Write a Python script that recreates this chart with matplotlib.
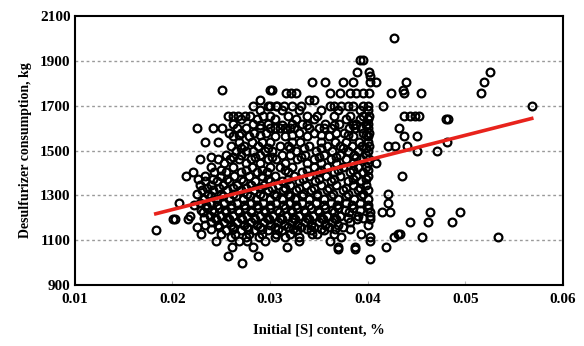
import matplotlib
matplotlib.use("Agg")
import matplotlib.pyplot as plt
import numpy as np

# desulfurizer consumption levels (kg) and the initial [S] contents (%) recorded at each level
consumption_levels = [
    2000, 1905, 1850, 1830, 1805, 1770, 1755, 1725, 1700, 1680,
    1655, 1640, 1620, 1600, 1580, 1565, 1540, 1520, 1500, 1480,
    1460, 1445, 1425, 1405, 1385, 1365, 1345, 1325, 1305, 1285,
    1265, 1245, 1225, 1210, 1195, 1180, 1160, 1145, 1130, 1115,
    1095, 1070, 1060, 1030, 1015, 1000,
]
s_content_rows = [
    [0.0427],
    [0.0392, 0.0395],
    [0.0389, 0.0401, 0.0525],
    [0.0402],
    [0.0343, 0.0356, 0.0375, 0.0385, 0.0402, 0.0409, 0.0439, 0.0519],
    [0.0251, 0.0300, 0.0302, 0.0436],
    [0.0316, 0.0321, 0.0327, 0.0361, 0.0372, 0.0382, 0.0388, 0.0395, 0.0401, 0.0424, 0.0437, 0.0455, 0.0516],
    [0.0290, 0.0340, 0.0345],
    [0.0283, 0.0298, 0.0300, 0.0306, 0.0307, 0.0314, 0.0323, 0.0332, 0.0361, 0.0366, 0.0373, 0.0380, 0.0385, 0.0395, 0.0400, 0.0416, 0.0568],
    [0.0290, 0.0312, 0.0330, 0.0352, 0.0370, 0.0392, 0.0400],
    [0.0257, 0.0262, 0.0267, 0.0274, 0.0279, 0.0293, 0.0300, 0.0318, 0.0338, 0.0348, 0.0365, 0.0382, 0.0395, 0.0401, 0.0437, 0.0443, 0.0448, 0.0453],
    [0.0270, 0.0287, 0.0305, 0.0327, 0.0345, 0.0378, 0.0392, 0.0400, 0.0480, 0.0482],
    [0.0262, 0.0283, 0.0298, 0.0322, 0.0333, 0.0356, 0.0371, 0.0388, 0.0400],
    [0.0225, 0.0242, 0.0251, 0.0266, 0.0275, 0.0290, 0.0300, 0.0305, 0.0310, 0.0315, 0.0320, 0.0325, 0.0340, 0.0350, 0.0355, 0.0362, 0.0381, 0.0387, 0.0393, 0.0400, 0.0432],
    [0.0258, 0.0270, 0.0284, 0.0296, 0.0330, 0.0345, 0.0368, 0.0376, 0.0395, 0.0401],
    [0.0262, 0.0278, 0.0305, 0.0315, 0.0338, 0.0360, 0.0385, 0.0400, 0.0437, 0.0451],
    [0.0233, 0.0247, 0.0268, 0.0282, 0.0292, 0.0300, 0.0322, 0.0331, 0.0352, 0.0367, 0.0378, 0.0391, 0.0400, 0.0481],
    [0.0260, 0.0273, 0.0288, 0.0310, 0.0318, 0.0340, 0.0358, 0.0372, 0.0384, 0.0394, 0.0401, 0.0421, 0.0428, 0.0440],
    [0.0265, 0.0275, 0.0283, 0.0295, 0.0302, 0.0327, 0.0347, 0.0363, 0.0380, 0.0390, 0.0400, 0.0451, 0.0471],
    [0.0255, 0.0270, 0.0290, 0.0312, 0.0320, 0.0336, 0.0355, 0.0372, 0.0386, 0.0398],
    [0.0228, 0.0247, 0.0259, 0.0268, 0.0280, 0.0298, 0.0306, 0.0328, 0.0345, 0.0362, 0.0378, 0.0393, 0.0401],
    [0.0253, 0.0275, 0.0290, 0.0315, 0.0338, 0.0352, 0.0368, 0.0385, 0.0400, 0.0409],
    [0.0240, 0.0262, 0.0282, 0.0300, 0.0310, 0.0322, 0.0345, 0.0358, 0.0375, 0.0390, 0.0398],
    [0.0221, 0.0243, 0.0255, 0.0270, 0.0287, 0.0297, 0.0318, 0.0333, 0.0350, 0.0366, 0.0382, 0.0395],
    [0.0214, 0.0233, 0.0250, 0.0263, 0.0278, 0.0292, 0.0305, 0.0325, 0.0340, 0.0357, 0.0372, 0.0388, 0.0400, 0.0435],
    [0.0233, 0.0246, 0.0258, 0.0272, 0.0285, 0.0300, 0.0312, 0.0330, 0.0346, 0.0362, 0.0380, 0.0393],
    [0.0228, 0.0240, 0.0252, 0.0266, 0.0280, 0.0294, 0.0308, 0.0320, 0.0337, 0.0352, 0.0368, 0.0385, 0.0398],
    [0.0230, 0.0242, 0.0256, 0.0270, 0.0284, 0.0298, 0.0313, 0.0327, 0.0342, 0.0358, 0.0375, 0.0390, 0.0400],
    [0.0225, 0.0236, 0.0250, 0.0262, 0.0276, 0.0290, 0.0304, 0.0318, 0.0334, 0.0348, 0.0364, 0.0380, 0.0395, 0.0421],
    [0.0232, 0.0245, 0.0258, 0.0272, 0.0286, 0.0300, 0.0312, 0.0326, 0.0340, 0.0355, 0.0370, 0.0386, 0.0400],
    [0.0207, 0.0228, 0.0240, 0.0253, 0.0266, 0.0280, 0.0293, 0.0306, 0.0320, 0.0333, 0.0347, 0.0362, 0.0378, 0.0392, 0.0421],
    [0.0235, 0.0248, 0.0260, 0.0274, 0.0288, 0.0300, 0.0315, 0.0328, 0.0342, 0.0356, 0.0370, 0.0385, 0.0400],
    [0.0231, 0.0243, 0.0255, 0.0268, 0.0281, 0.0295, 0.0309, 0.0322, 0.0336, 0.0350, 0.0365, 0.0381, 0.0402, 0.0415, 0.0423, 0.0464, 0.0495],
    [0.0218, 0.0238, 0.0250, 0.0262, 0.0276, 0.0290, 0.0303, 0.0317, 0.0330, 0.0344, 0.0358, 0.0372, 0.0390, 0.0402],
    [0.0201, 0.0203, 0.0216, 0.0245, 0.0258, 0.0271, 0.0285, 0.0299, 0.0312, 0.0326, 0.0340, 0.0354, 0.0368, 0.0389, 0.0402],
    [0.0240, 0.0253, 0.0266, 0.0280, 0.0294, 0.0308, 0.0322, 0.0336, 0.0350, 0.0363, 0.0382, 0.0443, 0.0462, 0.0486],
    [0.0225, 0.0248, 0.0262, 0.0276, 0.0290, 0.0305, 0.0318, 0.0332, 0.0345, 0.0360, 0.0375],
    [0.0183, 0.0255, 0.0270, 0.0284, 0.0298, 0.0312, 0.0328, 0.0342, 0.0355],
    [0.0229, 0.0250, 0.0264, 0.0278, 0.0292, 0.0306, 0.0320, 0.0343, 0.0348, 0.0366, 0.0393, 0.0431, 0.0433],
    [0.0260, 0.0275, 0.0289, 0.0305, 0.0315, 0.0330, 0.0373, 0.0402, 0.0427, 0.0456, 0.0533],
    [0.0245, 0.0268, 0.0276, 0.0295, 0.0330, 0.0361, 0.0402],
    [0.0261, 0.0283, 0.0317, 0.0370, 0.0387, 0.0419],
    [0.0370, 0.0387],
    [0.0257, 0.0288],
    [0.0402],
    [0.0271],
]

# extra heats packed into the dense middle of the cloud
core_levels = [1615, 1570, 1510, 1470, 1415, 1375, 1335, 1295, 1255, 1235, 1200, 1170, 1150]
core_rows = [
    [0.0290, 0.0312, 0.0338, 0.0365, 0.0385, 0.0398],
    [0.0268, 0.0290, 0.0322, 0.0352, 0.0380, 0.0398],
    [0.0270, 0.0298, 0.0320, 0.0335, 0.0352, 0.0375, 0.0398],
    [0.0240, 0.0262, 0.0285, 0.0302, 0.0332, 0.0350, 0.0368, 0.0388],
    [0.0250, 0.0275, 0.0292, 0.0315, 0.0338, 0.0352, 0.0370, 0.0385, 0.0400],
    [0.0226, 0.0242, 0.0256, 0.0270, 0.0298, 0.0318, 0.0334, 0.0350, 0.0366, 0.0385, 0.0398],
    [0.0235, 0.0248, 0.0262, 0.0275, 0.0290, 0.0302, 0.0315, 0.0330, 0.0345, 0.0360, 0.0378, 0.0392],
    [0.0240, 0.0252, 0.0265, 0.0279, 0.0293, 0.0306, 0.0320, 0.0333, 0.0348, 0.0362, 0.0378, 0.0393],
    [0.0222, 0.0234, 0.0246, 0.0260, 0.0273, 0.0287, 0.0300, 0.0313, 0.0327, 0.0340, 0.0355, 0.0369, 0.0384, 0.0400],
    [0.0229, 0.0241, 0.0254, 0.0267, 0.0281, 0.0294, 0.0307, 0.0321, 0.0335, 0.0349, 0.0363, 0.0377, 0.0392],
    [0.0232, 0.0244, 0.0256, 0.0270, 0.0284, 0.0297, 0.0310, 0.0324, 0.0338, 0.0352, 0.0366, 0.0380, 0.0395],
    [0.0233, 0.0247, 0.0260, 0.0273, 0.0287, 0.0300, 0.0314, 0.0328, 0.0342, 0.0356, 0.0370, 0.0400],
    [0.0240, 0.0262, 0.0277, 0.0292, 0.0308, 0.0324, 0.0338, 0.0352, 0.0367, 0.0382],
]

# linear trend: consumption = fit_intercept + fit_slope * [S]
fit_slope = 11036
fit_intercept = 1016

x_ticks = [0.01, 0.02, 0.03, 0.04, 0.05, 0.06]
y_ticks = [900, 1100, 1300, 1500, 1700, 1900, 2100]

levels = consumption_levels + core_levels
rows = s_content_rows + core_rows
s = np.array([x for xs in rows for x in xs])
q = np.array([y for y, xs in zip(levels, rows) for _ in xs])

plt.rcParams['font.family'] = ['Liberation Serif', 'DejaVu Serif']
plt.rcParams['font.weight'] = 'bold'

fig = plt.figure(figsize=(5.84, 3.46), dpi=100)
ax = fig.add_axes([0.128, 0.176, 0.836, 0.778])

for yv in y_ticks[1:-1]:
    ax.axhline(yv, color='#9a9a9a', lw=1.0, ls=(0, (2, 2)), zorder=1)

ax.plot(s, q, 'o', mfc='none', mec='black', mew=1.6, ms=5.6, zorder=2)

xf = np.array([s.min(), s.max()])
ax.plot(xf, fit_intercept + fit_slope * xf, color='#e8231c', lw=2.6, zorder=3)

ax.set_xlim(0.01, 0.06)
ax.set_ylim(900, 2100)
ax.set_xticks(x_ticks)
ax.set_yticks(y_ticks)
ax.set_xticklabels(['%.2f' % v for v in x_ticks], fontsize=11, fontweight='bold')
ax.set_yticklabels([str(v) for v in y_ticks], fontsize=11, fontweight='bold')
ax.tick_params(axis='x', direction='in', length=3, color='#bbbbbb', pad=6)
ax.tick_params(axis='y', length=0, pad=3)

for sp in ax.spines.values():
    sp.set_linewidth(1.5)
    sp.set_color('black')

ax.set_xlabel('Initial [S] content, %', fontsize=10.5, fontweight='bold', labelpad=12)
ax.set_ylabel('Desulfurizer consumption, kg', fontsize=10, fontweight='bold', labelpad=6)

fig.savefig('out.png', dpi=100)
